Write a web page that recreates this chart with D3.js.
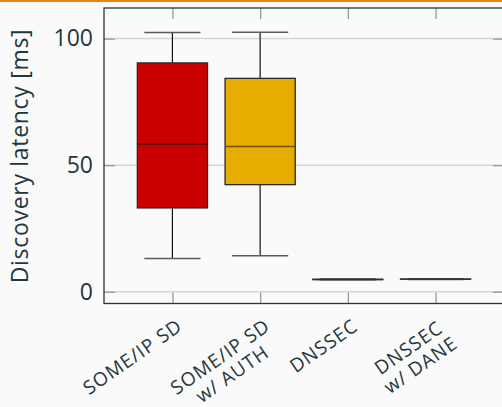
<!DOCTYPE html>
<html>
<head>
<meta charset="utf-8">
<script src="https://cdn.jsdelivr.net/npm/d3@7"></script>
<style>
  html, body { margin: 0; padding: 0; background: #fafafa; }
  svg { display: block; font-family: "Open Sans", sans-serif; }
</style>
</head>
<body>
<svg id="chart"></svg>
<script>
// data
const categories = [["SOME/IP SD"], ["SOME/IP SD", "w/ AUTH"], ["DNSSEC"], ["DNSSEC", "w/ DANE"]];
const whiskerLow  = [13.1, 14.2, 4.7, 4.8];
const quartile1   = [33.1, 42.3, 4.8, 4.9];
const medians     = [58.3, 57.4, 4.85, 4.95];
const quartile3   = [90.4, 84.3, 4.9, 5.0];
const whiskerHigh = [102.4, 102.5, 5.0, 5.1];
const boxColors   = ["#c80000", "#e6ac00", "#4a6b8a", "#4a8a5a"];
const yTicks = [0, 50, 100];

const W = 502, H = 407;
const textColor = "#23373b";

const svg = d3.select("#chart").attr("width", W).attr("height", H);

svg.append("rect").attr("width", W).attr("height", H).attr("fill", "#fafafa");
svg.append("rect").attr("width", W).attr("height", 2).attr("fill", "#eb811b");

const plot = { left: 104, right: 504, top: 8, bottom: 303.5 };

const x = d3.scaleLinear().domain([0.22, 4.78]).range([plot.left, plot.right]);
const y = d3.scaleLinear().domain([-4.66, 112.1]).range([plot.bottom, plot.top]);

// grid
svg.append("g").selectAll("line")
    .data(yTicks)
    .enter().append("line")
    .attr("x1", plot.left).attr("x2", plot.right)
    .attr("y1", d => y(d)).attr("y2", d => y(d))
    .attr("stroke", "#d6d6d6")
    .attr("stroke-width", 1.5);

// axes (ticks inside on every side)
const idx = categories.map((c, i) => i + 1);

function styleAxis(g) {
    g.select(".domain").remove();
    g.selectAll(".tick line").attr("stroke", "#9a9a9a").attr("stroke-width", 1.3);
}

svg.append("g")
    .attr("transform", `translate(${plot.left},0)`)
    .call(d3.axisLeft(y).tickValues(yTicks).tickSize(-11).tickPadding(11))
    .call(styleAxis)
    .call(g => g.selectAll("text")
        .attr("fill", textColor)
        .style("font-size", "23px")
        .style("font-family", "'Open Sans', sans-serif"));

svg.append("g")
    .attr("transform", `translate(${plot.right},0)`)
    .call(d3.axisRight(y).tickValues(yTicks).tickSize(-11).tickFormat(""))
    .call(styleAxis);

svg.append("g")
    .attr("transform", `translate(0,${plot.bottom})`)
    .call(d3.axisBottom(x).tickValues(idx).tickSize(-11).tickFormat(""))
    .call(styleAxis);

svg.append("g")
    .attr("transform", `translate(0,${plot.top})`)
    .call(d3.axisTop(x).tickValues(idx).tickSize(-11).tickFormat(""))
    .call(styleAxis);

// frame
svg.append("rect")
    .attr("x", plot.left).attr("y", plot.top)
    .attr("width", plot.right - plot.left).attr("height", plot.bottom - plot.top)
    .attr("fill", "none")
    .attr("stroke", textColor)
    .attr("stroke-width", 1.3);

// boxes
const boxW = 0.8, capW = 0.64;
const boxes = svg.append("g").selectAll("g")
    .data(idx)
    .enter().append("g");

boxes.append("line")
    .attr("x1", d => x(d)).attr("x2", d => x(d))
    .attr("y1", d => y(whiskerHigh[d - 1])).attr("y2", d => y(quartile3[d - 1]))
    .attr("stroke", "#111").attr("stroke-width", 1.2);

boxes.append("line")
    .attr("x1", d => x(d)).attr("x2", d => x(d))
    .attr("y1", d => y(quartile1[d - 1])).attr("y2", d => y(whiskerLow[d - 1]))
    .attr("stroke", "#111").attr("stroke-width", 1.2);

boxes.selectAll(".cap")
    .data(d => [[d, whiskerHigh[d - 1]], [d, whiskerLow[d - 1]]])
    .enter().append("line")
    .attr("class", "cap")
    .attr("x1", d => x(d[0] - capW / 2)).attr("x2", d => x(d[0] + capW / 2))
    .attr("y1", d => y(d[1])).attr("y2", d => y(d[1]))
    .attr("stroke", "#5a5a5a").attr("stroke-width", 1.6);

boxes.append("rect")
    .attr("x", d => x(d - boxW / 2))
    .attr("width", d => x(d + boxW / 2) - x(d - boxW / 2))
    .attr("y", d => y(quartile3[d - 1]))
    .attr("height", d => y(quartile1[d - 1]) - y(quartile3[d - 1]))
    .attr("fill", d => boxColors[d - 1])
    .attr("stroke", "#2a2a2a").attr("stroke-width", 1.3);

boxes.append("line")
    .attr("x1", d => x(d - boxW / 2)).attr("x2", d => x(d + boxW / 2))
    .attr("y1", d => y(medians[d - 1])).attr("y2", d => y(medians[d - 1]))
    .attr("stroke", d => d3.color(boxColors[d - 1]).darker(2))
    .attr("stroke-width", 1.5);

// category labels, rotated, right edge at the tick
const labels = svg.append("g").selectAll("g")
    .data(idx)
    .enter().append("g")
    .attr("transform", d => `translate(${x(d) + 3.5},318) rotate(-35)`);

labels.each(function(d) {
    const g = d3.select(this);
    const lines = categories[d - 1];
    const texts = lines.map((t, k) => g.append("text")
        .attr("y", 13.5 + k * 21)
        .attr("fill", textColor)
        .style("font-size", "19px")
        .style("letter-spacing", "1px")
        .attr("text-anchor", "middle")
        .text(t));
    const wMax = d3.max(texts, t => t.node().getComputedTextLength());
    texts.forEach(t => t.attr("x", -wMax / 2));
});

// y axis title
svg.append("text")
    .attr("transform", `translate(28,156) rotate(-90)`)
    .attr("text-anchor", "middle")
    .attr("fill", textColor)
    .style("font-size", "23px")
    .style("letter-spacing", "0.7px")
    .text("Discovery latency [ms]");
</script>
</body>
</html>
